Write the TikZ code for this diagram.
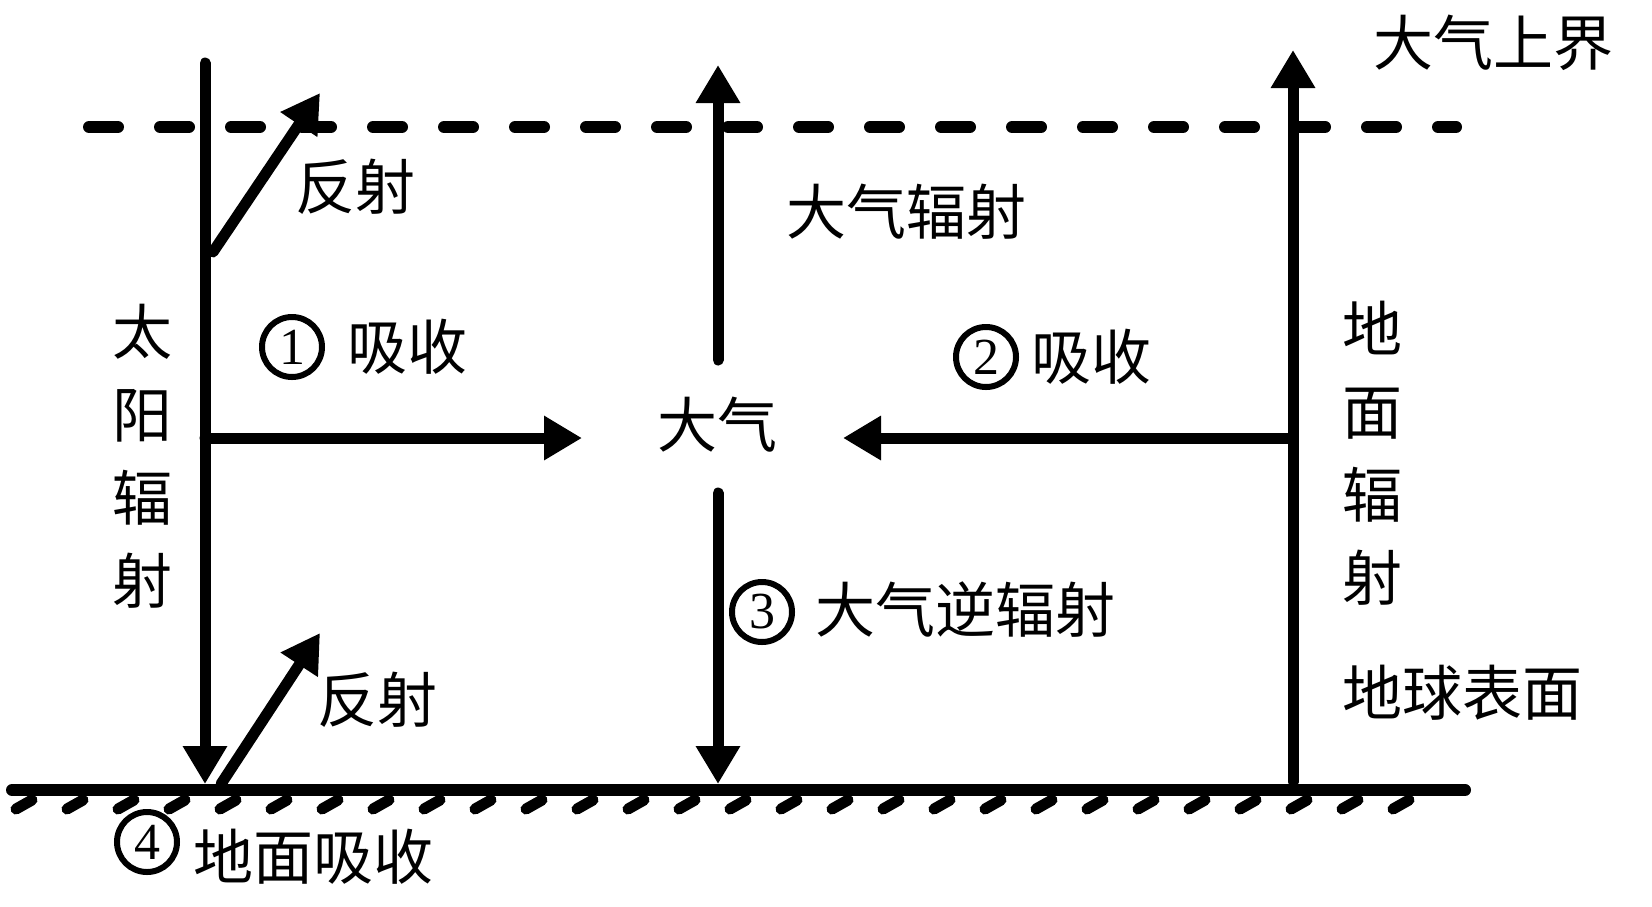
\documentclass[tikz,border=0pt]{standalone}
\usepackage{fontspec}
\setmainfont{Liberation Serif}
\newfontfamily\cjk{Noto Sans CJK SC}
\usetikzlibrary{arrows.meta}
\tikzset{
	ray/.style={line width=5.5pt, line cap=round, -{Triangle[width=21pt,length=19pt]}},
	txt/.style={font=\cjk\fontsize{30}{41.5}\selectfont, inner sep=0pt, align=center},
	num/.style={circle, draw, line width=3pt, minimum size=30pt, inner sep=0pt, font=\fontsize{26}{30}\selectfont}
}
\begin{document}
\begin{tikzpicture}[x=0.5pt, y=-0.5pt]
	\useasboundingbox (0,0) rectangle (1652,906);
	% ground and top of atmosphere
	\coordinate (gl) at (12,790);
	\coordinate (gr) at (1465,790);
	\coordinate (tl) at (89,127);
	\coordinate (tr) at (1456,127);
	\draw[line width=6pt, line cap=round] (gl) -- (gr);
	\foreach \i in {0,...,27}
		\draw[line width=5.5pt, line cap=round] (24+51*\i-8,809) -- (24+51*\i+8,800);
	\draw[line width=6pt, line cap=round, dash pattern=on 14.5pt off 21pt] (tl) -- (tr);
	% solar radiation
	\coordinate (sun) at (205,63);
	\coordinate (sunhit) at (205,784);
	\coordinate (sunmid) at (205,438);
	\coordinate (qiw) at (582,438);
	\draw[ray] (sun) -- (sunhit);
	\draw[ray] (sunmid) -- (qiw);
	\coordinate (refa) at (213,252);
	\coordinate (refb) at (320,93);
	\draw[ray] (refa) -- (refb);
	\coordinate (refc) at (221,784);
	\coordinate (refd) at (320,633);
	\draw[ray] (refc) -- (refd);
	% atmosphere
	\coordinate (qiup) at (718,360);
	\coordinate (qitop) at (718,65);
	\coordinate (qidown) at (718,493);
	\coordinate (qihit) at (718,784);
	\draw[ray] (qiup) -- (qitop);
	\draw[ray] (qidown) -- (qihit);
	% ground radiation
	\coordinate (gnd) at (1293,782);
	\coordinate (gndtop) at (1293,50);
	\coordinate (gndmid) at (1293,438);
	\coordinate (qie) at (843,438);
	\draw[ray] (gnd) -- (gndtop);
	\draw[ray] (gndmid) -- (qie);
	% labels
	\node[txt] (top) at (1493,43) {大气上界};
	\node[txt] (refl1) at (355,187) {反射};
	\node[txt] (qirad) at (906,212) {大气辐射};
	\node[txt] (sunlbl) at (142,456) {太\\阳\\辐\\射};
	\node[txt] (gndlbl) at (1372,453) {地\\面\\辐\\射};
	\node[txt] (surf) at (1462,693) {地球表面};
	\node[num] (n1) at (292,347) {1};
	\node[txt] (abs1) at (407,347) {吸收};
	\node[num] (n2) at (986,357) {2};
	\node[txt] (abs2) at (1091,357) {吸收};
	\node[txt] (qi) at (717,425) {大气};
	\node[num] (n3) at (762,612) {3};
	\node[txt] (back) at (965,610) {大气逆辐射};
	\node[txt] (refl2) at (377,700) {反射};
	\node[num] (n4) at (147,842) {4};
	\node[txt] (gabs) at (313,857) {地面吸收};
\end{tikzpicture}
\end{document}
